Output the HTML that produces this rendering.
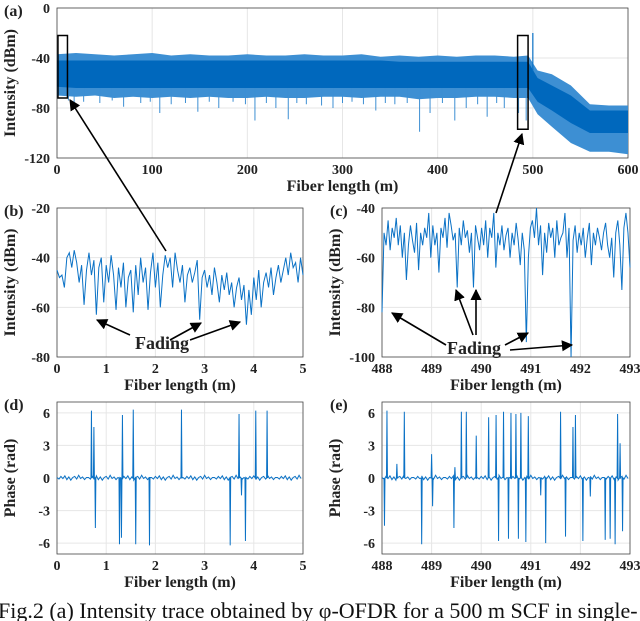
<!DOCTYPE html>
<html><head><meta charset="utf-8"><style>
body{margin:0;background:#fff;width:640px;height:621px;overflow:hidden}
svg{display:block}
.t{font-family:"Liberation Serif",serif;font-weight:bold;font-size:14px;fill:#222}
.lab{font-family:"Liberation Serif",serif;font-weight:bold;font-size:16px;fill:#222}
.cap{font-family:"Liberation Serif",serif;font-size:22px;fill:#111}
</style></head><body>
<svg id="svg" width="640" height="621" viewBox="0 0 640 621">
<defs><marker id="ah" viewBox="0 0 10 10" refX="9" refY="5" markerWidth="7" markerHeight="7" orient="auto-start-reverse"><path d="M0,0L10,5L0,10z" fill="#000"/></marker></defs>
</svg>
<script>
// ---- data ----
const aX=[0,20,40,60,80,100,120,140,160,180,200,220,240,260,280,300,320,340,360,380,400,420,440,460,480,495,505,520,540,560,580,600];
const aUpper=[-37,-36,-37,-38,-37,-36,-38,-37,-38,-38,-37,-38,-38,-37,-38,-38,-37,-39,-38,-39,-38,-39,-38,-38,-39,-38,-50,-53,-62,-77,-78,-78];
const aCoreU=[-42,-42,-42,-42,-42,-42,-42,-42,-42,-42,-42,-42,-42,-42,-42,-42,-42,-42,-43,-43,-43,-43,-43,-43,-43,-43,-56,-62,-70,-82,-82,-82];
const aCoreL=[-63,-64,-64,-64,-64,-64,-64,-64,-64,-64,-64,-64,-64,-64,-64,-64,-64,-64,-64,-64,-64,-64,-64,-64,-64,-64,-75,-82,-92,-100,-100,-100];
const aLower=[-70,-71,-70,-72,-71,-72,-71,-72,-71,-72,-72,-71,-72,-72,-71,-71,-72,-71,-71,-73,-72,-72,-71,-71,-72,-72,-85,-95,-108,-115,-115,-117];
const aDipX=[12,18,28,45,58,70,88,98,108,120,135,148,160,170,185,198,208,220,230,243,252,262,278,290,300,310,322,335,345,355,368,381,392,405,418,430,442,452,462,470,485,493];
const aDipY=[-74,-78,-75,-76,-74,-79,-76,-75,-84,-77,-76,-83,-75,-80,-75,-77,-90,-76,-80,-89,-76,-77,-78,-80,-76,-75,-77,-82,-76,-77,-76,-99,-84,-76,-90,-80,-77,-87,-76,-80,-84,-90];
const bVals=[-45,-48,-47,-52,-40,-38,-44,-37,-42,-50,-43,-59,-45,-38,-47,-41,-63,-44,-40,-58,-43,-50,-39,-47,-61,-44,-52,-42,-60,-48,-45,-62,-43,-55,-40,-50,-44,-61,-46,-38,-52,-42,-60,-47,-39,-44,-40,-52,-38,-45,-50,-43,-58,-47,-44,-50,-46,-41,-65,-48,-45,-52,-47,-55,-44,-50,-58,-47,-53,-46,-55,-50,-60,-52,-48,-57,-51,-67,-53,-63,-48,-57,-45,-60,-50,-46,-52,-44,-55,-48,-43,-50,-45,-40,-47,-38,-44,-42,-50,-40,-47];
const cVals=[-82,-50,-55,-45,-57,-48,-52,-44,-55,-47,-60,-50,-69,-55,-47,-53,-58,-46,-65,-50,-55,-48,-52,-42,-60,-47,-55,-50,-66,-48,-52,-44,-56,-42,-47,-53,-50,-72,-48,-55,-45,-52,-49,-58,-50,-72,-47,-52,-57,-48,-55,-45,-60,-48,-52,-42,-64,-50,-55,-47,-57,-51,-48,-60,-50,-55,-46,-53,-63,-50,-57,-94,-60,-48,-45,-52,-40,-55,-47,-67,-50,-58,-46,-52,-48,-60,-45,-55,-52,-50,-42,-60,-48,-100,-53,-47,-58,-50,-55,-48,-60,-52,-46,-63,-50,-55,-48,-52,-57,-50,-46,-55,-60,-52,-68,-50,-45,-55,-73,-48,-42,-50,-64];
const dSpX=[0.70,0.75,0.78,1.27,1.31,1.33,1.55,1.60,1.88,2.53,3.52,3.70,3.75,3.83,4.04,4.27];
const dSpY=[6.2,4.7,-4.6,-6.1,-5.5,5.8,6.3,-6.1,-6.2,6.3,-6.2,5.9,-1.6,-5.8,6.2,6.2];
const eSpX=[488.05,488.1,488.3,488.45,488.8,489.0,489.02,489.45,489.47,489.6,489.7,489.9,490.15,490.3,490.35,490.45,490.55,490.6,490.7,490.75,490.8,490.9,490.95,491.2,491.3,491.6,491.7,491.85,491.9,492.05,492.2,492.5,492.6,492.7,492.75,492.8,492.85,492.98];
const eSpY=[-4.4,6.2,1.3,6.1,-6.1,2.2,-2.6,-4.6,1.0,6.1,6.1,3.9,5.6,5.8,-5.8,6.1,-5.6,6.0,5.9,-5.6,6.0,-5.9,5.7,-1.6,-6.0,6.1,-5.4,4.7,5.8,-5.8,-1.7,-5.7,-5.6,-6.1,5.9,3.2,-4.9,5.3];
const jitter=[0.05,-0.1,0.15,-0.05,0.2,-0.15,0.1,-0.2,0.05,0.15,-0.1,0.25,-0.05,0.1,-0.15,0.05];

const NS='http://www.w3.org/2000/svg', svg=document.getElementById('svg');
const BLUE='#0b72c6';
function el(tag,at,txt,parent){const e=document.createElementNS(NS,tag);for(const k in at)e.setAttribute(k,at[k]);if(txt!=null)e.textContent=txt;(parent||svg).appendChild(e);return e;}
function axes(name,x0,x1,y0,y1,xmin,xmax,ymin,ymax,xt,yt,ylab,tag,tagx){
  const g=el('g',{});
  
  
  const sx=v=>x0+(v-xmin)/(xmax-xmin)*(x1-x0), sy=v=>y1-(v-ymin)/(ymax-ymin)*(y1-y0);
  xt.forEach(v=>{el('line',{x1:sx(v),x2:sx(v),y1:y0,y2:y1,stroke:'#e6e6e6'},null,g);
    const t=el('text',{x:sx(v),y:y1+16,'text-anchor':'middle',class:'t'},String(v),g);
    });
  yt.forEach(v=>{el('line',{x1:x0,x2:x1,y1:sy(v),y2:sy(v),stroke:'#e6e6e6'},null,g);
    const t=el('text',{x:x0-7,y:sy(v)+5,'text-anchor':'end',class:'t'},String(v),g);
    });
  el('rect',{x:x0,y:y0,width:x1-x0,height:y1-y0,fill:'none',stroke:'#444','stroke-width':0.8},null,g);
  const xl=el('text',{x:(x0+x1)/2,y:y1+33,'text-anchor':'middle',class:'lab'},'Fiber length (m)',g);
  
  const yx=x0-42, yy=(y0+y1)/2;
  const yl=el('text',{x:yx,y:yy,'text-anchor':'middle',class:'lab',transform:`rotate(-90 ${yx} ${yy})`},ylab,g);
  
  const tg=el('text',{x:tagx,y:y0+8,class:'lab'},tag,g);
  
  return {sx,sy,g};
}
function band(P,up,lo,color,name){
  let pts=aX.map((x,i)=>P.sx(x)+','+P.sy(up[i]));
  for(let i=aX.length-1;i>=0;i--)pts.push(P.sx(aX[i])+','+P.sy(lo[i]));
  const p=el('polygon',{points:pts.join(' '),fill:color},null,P.g);
  
}
// (a)
const A=axes('panel-a',57,628,8,158,0,600,-120,0,[0,100,200,300,400,500,600],[0,-40,-80,-120],'Intensity (dBm)','(a)',4);
band(A,aUpper,aLower,'#3d8fd3','intensity-fringe');
aDipX.forEach((x,i)=>{const l=el('line',{x1:A.sx(x),x2:A.sx(x),y1:A.sy(-60),y2:A.sy(aDipY[i]),stroke:'#3d8fd3','stroke-width':1},null,A.g);
  });
band(A,aCoreU,aCoreL,'#0068bd','intensity-core');
let sp=el('line',{x1:A.sx(500),x2:A.sx(500),y1:A.sy(-50),y2:A.sy(-20),stroke:BLUE,'stroke-width':1.2},null,A.g);

let b1=el('rect',{x:A.sx(1),y:A.sy(-22),width:A.sx(11)-A.sx(1),height:A.sy(-72)-A.sy(-22),fill:'none',stroke:'#000','stroke-width':1.5});

let b2=el('rect',{x:A.sx(484),y:A.sy(-22),width:A.sx(495)-A.sx(484),height:A.sy(-97)-A.sy(-22),fill:'none',stroke:'#000','stroke-width':1.5});

// (b)
const B=axes('panel-b',57,303,208,357,0,5,-80,-20,[0,1,2,3,4,5],[-20,-40,-60,-80],'Intensity (dBm)','(b)',4);
let lb=el('polyline',{points:bVals.map((v,i)=>B.sx(i/(bVals.length-1)*5)+','+B.sy(v)).join(' '),fill:'none',stroke:BLUE,'stroke-width':1},null,B.g);

// (c)
const C=axes('panel-c',382,630,208,357,488,493,-100,-40,[488,489,490,491,492,493],[-40,-60,-80,-100],'Intensity (dBm)','(c)',330);
let lc=el('polyline',{points:cVals.map((v,i)=>C.sx(488+i/(cVals.length-1)*5)+','+C.sy(v)).join(' '),fill:'none',stroke:BLUE,'stroke-width':1},null,C.g);

// phase panels
function phase(P,xs,ys,xmin,name){
  const pts=[];let k=0;const step=0.04;
  const all=xs.map((x,i)=>[x,ys[i]]).sort((a,b)=>a[0]-b[0]);
  let x=xmin,j=0;
  while(x<=xmin+5){
    while(j<all.length&&all[j][0]<=x){pts.push([all[j][0]-0.01,0],[all[j][0],all[j][1]],[all[j][0]+0.01,0]);j++;}
    pts.push([x,jitter[k++%jitter.length]]);x+=step;}
  const l=el('polyline',{points:pts.map(q=>P.sx(q[0])+','+P.sy(q[1])).join(' '),fill:'none',stroke:BLUE,'stroke-width':1},null,P.g);
  
}
const D=axes('panel-d',57,303,402,554,0,5,-7,7,[0,1,2,3,4,5],[6,3,0,-3,-6],'Phase (rad)','(d)',4);
phase(D,dSpX,dSpY,0,'phase-line-d');
const E=axes('panel-e',382,630,402,554,488,493,-7,7,[488,489,490,491,492,493],[6,3,0,-3,-6],'Phase (rad)','(e)',330);
phase(E,eSpX,eSpY,488,'phase-line-e');
// annotations
function arrow(x1,y1,x2,y2){const l=el('line',{x1,y1,x2,y2,stroke:'#000','stroke-width':1.6,'marker-end':'url(#ah)'});
  }
arrow(166,251,70,100);arrow(496,213,522,134);
arrow(130,335,97,320);arrow(170,340,201,323);arrow(190,340,240,322);
arrow(446,345,392,313);arrow(473,335,456,290);arrow(476,335,476,290);arrow(505,345,528,333);arrow(510,350,572,345);
let f1=el('text',{x:135,y:349,class:'lab'},'Fading');
f1.style.fontSize='18px';
let f2=el('text',{x:447,y:354,class:'lab'},'Fading');
f2.style.fontSize='18px';
let cap=el('text',{x:-2,y:618,class:'cap'},'Fig.2 (a) Intensity trace obtained by φ-OFDR for a 500 m SCF in single-');

</script>
</body></html>
